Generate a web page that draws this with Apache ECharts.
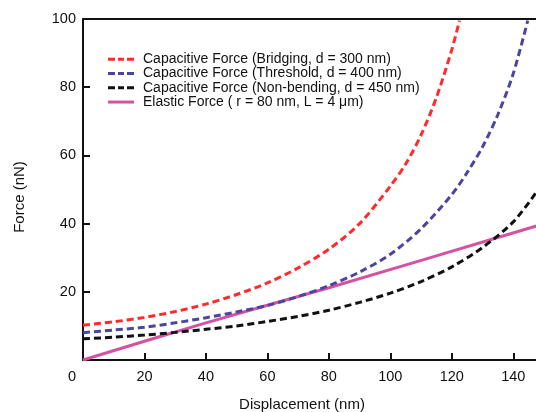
<!DOCTYPE html>
<html>
<head>
<meta charset="utf-8">
<script src="https://cdn.jsdelivr.net/npm/echarts@6/dist/echarts.min.js"></script>
<style>
html,body{margin:0;padding:0;background:#fff;}
#chart{width:536px;height:412px;}
</style>
</head>
<body>
<div id="chart"></div>
<script>
// ---- data ----
const xTicks = [0, 20, 40, 60, 80, 100, 120, 140];
const yTicks = [20, 40, 60, 80, 100];

const bridgingX = [0, 10, 20, 30, 40, 50, 60, 70, 80, 90, 100, 105, 110, 115, 120, 122.5];
const bridgingY = [10.2, 11.2, 12.5, 14.2, 16.4, 19.2, 22.6, 27, 32.5, 40, 51, 57.5, 66, 77, 91, 99.5];

const thresholdX = [0, 10, 20, 30, 40, 50, 60, 70, 80, 90, 100, 110, 120, 125, 130, 135, 140, 144.7];
const thresholdY = [8.0, 8.8, 9.6, 10.9, 12.4, 14.1, 16, 18.6, 21.8, 25.8, 31, 38.5, 48.5, 55, 62.5, 72, 84, 99.5];

const nonBendingX = [0, 10, 20, 30, 40, 50, 60, 70, 80, 90, 100, 110, 120, 130, 140, 147.5];
const nonBendingY = [6.2, 6.7, 7.3, 8.1, 9.0, 10.0, 11.3, 12.8, 14.6, 16.9, 19.6, 23, 27.3, 33, 40.5, 49.2];

const elasticX = [0, 40, 80, 147.5];
const elasticY = [0, 10.9, 21.2, 39.3];

const names = [
  'Capacitive Force (Bridging, d = 300 nm)',
  'Capacitive Force (Threshold, d = 400 nm)',
  'Capacitive Force (Non-bending, d = 450 nm)',
  'Elastic Force ( r = 80 nm, L = 4 \u03bcm)'
];

const zip = (xs, ys) => xs.map((x, i) => [x, ys[i]]);
const FONT = 'Liberation Sans, Arial, sans-serif';
const DASH_ICON = 'path://M0,0h7v3h-7zM10,0h6v3h-6zM19,0h7v3h-7z';
const SOLID_ICON = 'path://M0,0h26v3h-26z';

const chart = echarts.init(document.getElementById('chart'), null, {renderer: 'canvas'});

function lineSeries(name, data, color, dashed) {
  return {
    name: name,
    type: 'line',
    data: data,
    showSymbol: false,
    symbol: 'none',
    smooth: 0.3,
    clip: true,
    lineStyle: {color: color, width: 3, type: dashed ? [7, 4] : 'solid'},
    itemStyle: {color: color},
    z: dashed ? 3 : 2
  };
}

chart.setOption({
  animation: false,
  backgroundColor: '#ffffff',
  grid: {left: 83, top: 19, width: 461, bottom: 52, containLabel: false, outerBoundsMode: 'none'},
  legend: {
    orient: 'vertical',
    left: 103,
    top: 47,
    itemWidth: 26,
    itemHeight: 3,
    itemGap: 0,
    textStyle: {fontFamily: FONT, fontSize: 14, lineHeight: 14.3, color: '#111', padding: [0, 0, 0, 4]},
    data: [
      {name: names[0], icon: DASH_ICON},
      {name: names[1], icon: DASH_ICON},
      {name: names[2], icon: DASH_ICON},
      {name: names[3], icon: SOLID_ICON}
    ]
  },
  xAxis: [{
    type: 'value',
    min: 0, max: 150, interval: 20,
    name: 'Displacement (nm)',
    nameLocation: 'middle',
    nameGap: 37,
    nameTextStyle: {fontFamily: FONT, fontSize: 15, color: '#111', padding: [0, 23, 0, 0]},
    axisLine: {show: true, lineStyle: {color: '#111', width: 2}},
    axisTick: {show: true, inside: true, length: 7, lineStyle: {color: '#111', width: 2}},
    splitLine: {show: false},
    axisLabel: {
      margin: 9,
      fontFamily: FONT, fontSize: 14.5, color: '#111',
      formatter: function (v) {
        if (xTicks.indexOf(v) < 0) return '';
        if (v === 0) return '{z|0}';
        return String(v);
      },
      rich: {z: {fontFamily: FONT, fontSize: 14.5, color: '#111', padding: [0, 22, 0, 0]}}
    }
  }, {
    type: 'value',
    position: 'top',
    min: 0, max: 150,
    axisLine: {show: true, lineStyle: {color: '#111', width: 2}},
    axisTick: {show: false},
    axisLabel: {show: false},
    splitLine: {show: false}
  }],
  yAxis: {
    type: 'value',
    min: 0, max: 100, interval: 20,
    name: 'Force (nN)',
    nameLocation: 'middle',
    nameGap: 56,
    nameTextStyle: {fontFamily: FONT, fontSize: 15, color: '#111', padding: [0, 15, 0, 0]},
    axisLine: {show: true, lineStyle: {color: '#111', width: 2}},
    axisTick: {show: true, inside: true, length: 7, lineStyle: {color: '#111', width: 2}},
    splitLine: {show: false},
    axisLabel: {
      margin: 7,
      fontFamily: FONT, fontSize: 14.5, color: '#111',
      formatter: function (v) { return yTicks.indexOf(v) < 0 ? '' : String(v); }
    }
  },
  series: [
    lineSeries(names[0], zip(bridgingX, bridgingY), '#ff2b2b', true),
    lineSeries(names[1], zip(thresholdX, thresholdY), '#4b44a0', true),
    lineSeries(names[2], zip(nonBendingX, nonBendingY), '#111111', true),
    lineSeries(names[3], zip(elasticX, elasticY), '#d452a0', false)
  ]
});
</script>
</body>
</html>
